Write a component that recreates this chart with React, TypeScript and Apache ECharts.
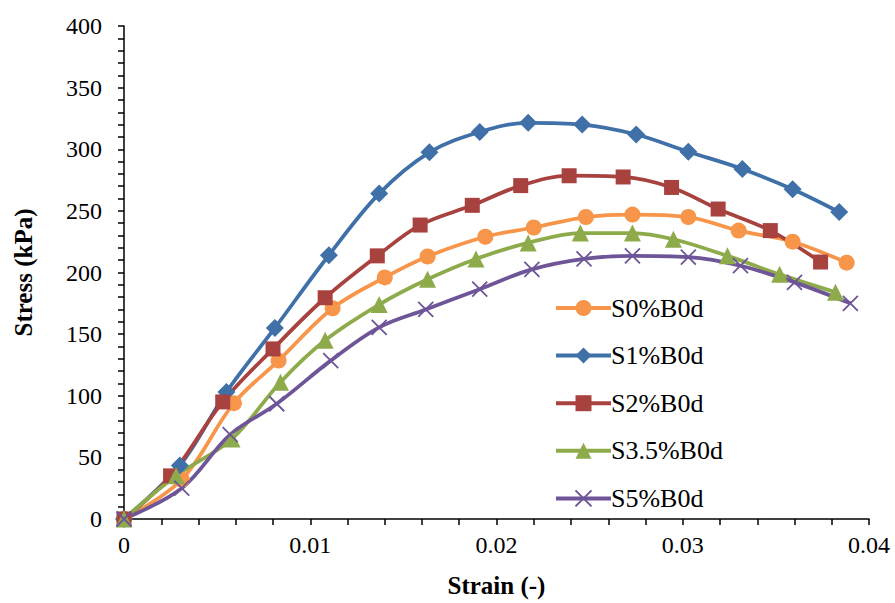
import React, { useEffect, useRef } from "react";
import * as echarts from "echarts";

// Strain (-) and stress (kPa) readings for each mix
const strainS0 = [0, 0.0031, 0.0059, 0.0083, 0.0112, 0.014, 0.0163, 0.0194, 0.022, 0.0248, 0.0273, 0.0303, 0.033, 0.0359, 0.0388];
const stressS0 = [0, 32, 94, 128.5, 171, 196, 213, 229, 236.5, 245, 247, 245, 234, 225, 208];

const strainS1 = [0, 0.003, 0.0055, 0.0081, 0.011, 0.0137, 0.0164, 0.0191, 0.0217, 0.0246, 0.0275, 0.0303, 0.0332, 0.0359, 0.0384];
const stressS1 = [0, 43.5, 103, 155, 214, 264, 297.5, 314, 321.5, 320, 312, 298, 284, 267.5, 249];

const strainS2 = [0, 0.0025, 0.0053, 0.008, 0.0108, 0.0136, 0.0159, 0.0187, 0.0213, 0.0239, 0.0268, 0.0294, 0.0319, 0.0347, 0.0374];
const stressS2 = [0, 35, 95, 138, 179.5, 213.5, 238.5, 254.5, 270.5, 278.5, 277.5, 269, 251.5, 234, 208.5];

const strainS35 = [0, 0.0028, 0.0058, 0.0084, 0.0108, 0.0137, 0.0163, 0.0189, 0.0217, 0.0245, 0.0273, 0.0295, 0.0324, 0.0352, 0.0382];
const stressS35 = [0, 35, 65, 111, 145, 174, 194.5, 211, 224, 232, 232, 227, 213.5, 198.5, 184];

const strainS5 = [0, 0.0031, 0.0057, 0.0082, 0.0111, 0.0137, 0.0162, 0.0191, 0.0219, 0.0247, 0.0273, 0.0303, 0.0331, 0.036, 0.039];
const stressS5 = [0, 25, 68.5, 93.5, 128.5, 155.5, 170, 186.5, 202.5, 211, 213.5, 212.5, 205.5, 192, 175];

const seriesNames = ["S0%B0d", "S1%B0d", "S2%B0d", "S3.5%B0d", "S5%B0d"];

const FONT = "Liberation Serif";
const CROSS = "path://M0,0L10,10M0,10L10,0";

const pair = (xs: number[], ys: number[]) => xs.map((x, i) => [x, ys[i]]);

function lineSeries(
  name: string,
  data: number[][],
  color: string,
  symbol: string,
  symbolSize: number,
  cross = false
) {
  return {
    name,
    type: "line",
    data,
    smooth: 0.35,
    symbol,
    symbolSize,
    showAllSymbol: true,
    lineStyle: { color, width: 3.75 },
    itemStyle: cross
      ? { color, borderColor: color, borderWidth: 1.8 }
      : { color, borderWidth: 0 },
    emphasis: { disabled: true },
  };
}

export default function App() {
  const ref = useRef<HTMLDivElement>(null);

  useEffect(() => {
    if (!ref.current) return;
    const chart = echarts.init(ref.current, undefined, { renderer: "svg" });
    chart.setOption({
      animation: false,
      backgroundColor: "#ffffff",
      textStyle: { fontFamily: FONT, color: "#000" },
      grid: { left: 124, right: 26, top: 26, bottom: 82, containLabel: false },
      legend: {
        orient: "vertical",
        left: 549,
        top: 289,
        itemWidth: 55,
        itemHeight: 20,
        itemGap: 19.6,
        data: seriesNames,
        lineStyle: { width: 4 },
        textStyle: { fontFamily: FONT, fontSize: 26, color: "#000", lineHeight: 28, padding: [0, 0, 0, -5] },
      },
      xAxis: {
        type: "value",
        min: 0,
        max: 0.04,
        interval: 0.01,
        name: "Strain (-)",
        nameLocation: "middle",
        nameGap: 54,
        nameTextStyle: { fontFamily: FONT, fontSize: 25, fontWeight: "bold", color: "#000" },
        axisLine: { show: true, onZero: false, lineStyle: { color: "#000", width: 1.5 } },
        axisTick: { show: true, inside: false, length: 6, lineStyle: { color: "#000", width: 1.5 } },
        minorTick: { show: true, splitNumber: 5, length: 6, lineStyle: { color: "#000", width: 1.5 } },
        axisLabel: { fontFamily: FONT, fontSize: 24, color: "#000", margin: 14 },
        splitLine: { show: false },
      },
      yAxis: {
        type: "value",
        min: 0,
        max: 400,
        interval: 50,
        name: "Stress (kPa)",
        nameLocation: "middle",
        nameGap: 88,
        nameRotate: 90,
        nameTextStyle: { fontFamily: FONT, fontSize: 25, fontWeight: "bold", color: "#000" },
        axisLine: { show: true, lineStyle: { color: "#000", width: 1.5 } },
        axisTick: { show: true, inside: false, length: 6, lineStyle: { color: "#000", width: 1.5 } },
        minorTick: { show: true, splitNumber: 5, length: 6, lineStyle: { color: "#000", width: 1.5 } },
        axisLabel: { fontFamily: FONT, fontSize: 24, color: "#000", margin: 22 },
        splitLine: { show: false },
      },
      series: [
        lineSeries(seriesNames[0], pair(strainS0, stressS0), "#F7964A", "circle", 16),
        lineSeries(seriesNames[1], pair(strainS1, stressS1), "#3F70A8", "diamond", 18),
        lineSeries(seriesNames[2], pair(strainS2, stressS2), "#A8423F", "rect", 15),
        lineSeries(seriesNames[3], pair(strainS35, stressS35), "#8EAB4B", "triangle", 17),
        lineSeries(seriesNames[4], pair(strainS5, stressS5), "#6E5597", CROSS, 15, true),
      ],
    });
    return () => chart.dispose();
  }, []);

  return <div ref={ref} style={{ width: 895, height: 603, position: "absolute", left: 0, top: 0 }} />;
}
